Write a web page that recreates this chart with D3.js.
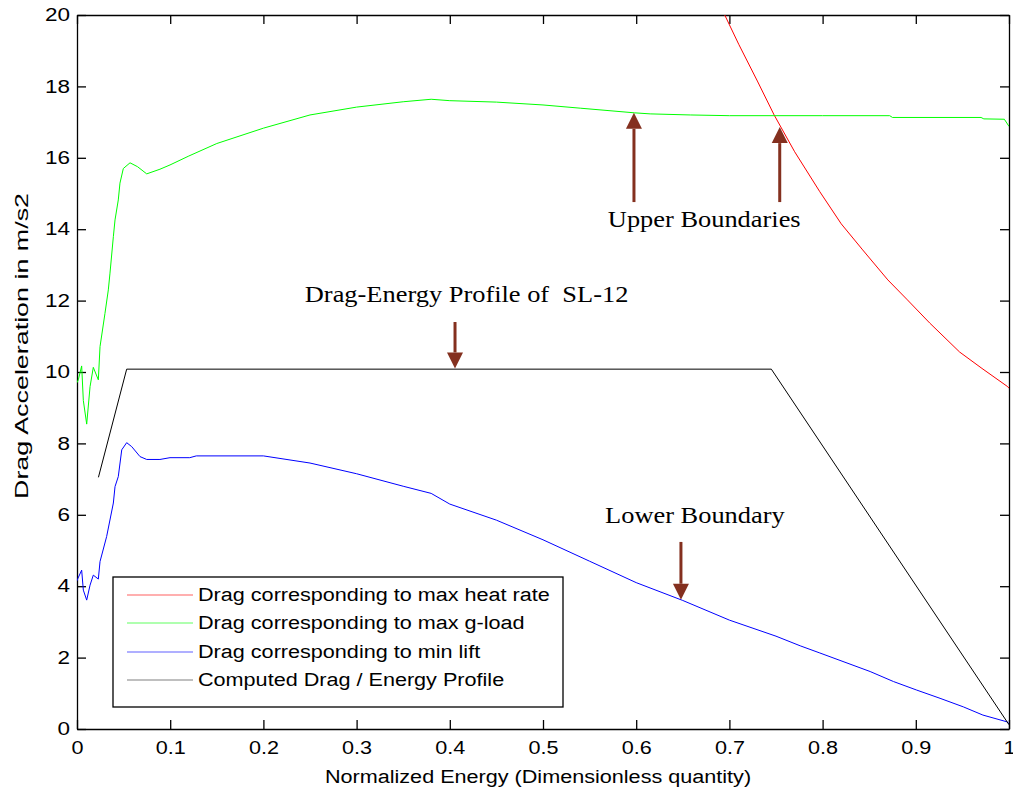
<!DOCTYPE html>
<html>
<head>
<meta charset="utf-8">
<script src="https://cdn.jsdelivr.net/npm/d3@7"></script>
<style>
  body { margin: 0; background: #fff; }
  svg { display: block; }
  text { white-space: pre; }
</style>
</head>
<body>
<svg id="chart" width="1013" height="794"></svg>
<script>
// ---- data ----
const heatX = [0.695, 0.71, 0.73, 0.748, 0.77, 0.797, 0.82, 0.843, 0.87, 0.891, 0.915, 0.947, 0.971, 0.998, 1.0];
const heatY = [20, 19.18, 18.15, 17.2, 16.17, 15.05, 14.15, 13.42, 12.58, 12.02, 11.37, 10.56, 10.1, 9.6, 9.55];

const gloadX = [0.0, 0.0014, 0.005, 0.0068, 0.0104, 0.014, 0.0175, 0.0229, 0.0247, 0.030, 0.0336, 0.0354, 0.039, 0.0408, 0.0443, 0.0461, 0.0497, 0.0569, 0.065, 0.0748, 0.089, 0.0998, 0.12, 0.15, 0.2, 0.25, 0.3, 0.35, 0.38, 0.4, 0.45, 0.5, 0.54, 0.598, 0.615, 0.658, 0.7, 0.75, 0.8, 0.872, 0.875, 0.97, 0.973, 0.995, 1.0];
const gloadY = [9.7, 9.78, 10.17, 9.2, 8.54, 9.59, 10.13, 9.78, 10.71, 11.64, 12.3, 12.77, 13.79, 14.26, 14.82, 15.29, 15.7, 15.86, 15.75, 15.55, 15.68, 15.8, 16.05, 16.4, 16.83, 17.2, 17.42, 17.57, 17.64, 17.6, 17.56, 17.48, 17.39, 17.26, 17.23, 17.2, 17.18, 17.18, 17.18, 17.18, 17.13, 17.13, 17.09, 17.08, 16.88];

const liftX = [0.0, 0.001, 0.005, 0.0068, 0.0104, 0.014, 0.0175, 0.0229, 0.0247, 0.0318, 0.039, 0.0408, 0.0443, 0.048, 0.0533, 0.0587, 0.0676, 0.0748, 0.089, 0.0998, 0.121, 0.128, 0.2, 0.25, 0.3, 0.35, 0.38, 0.4, 0.45, 0.5, 0.55, 0.6, 0.65, 0.7, 0.75, 0.776, 0.797, 0.851, 0.876, 0.901, 0.926, 0.951, 0.972, 0.998, 1.0];
const liftY = [4.15, 4.22, 4.45, 3.89, 3.61, 4.03, 4.31, 4.2, 4.69, 5.39, 6.33, 6.79, 7.07, 7.82, 8.02, 7.91, 7.63, 7.55, 7.55, 7.6, 7.6, 7.65, 7.65, 7.45, 7.15, 6.8, 6.6, 6.3, 5.85, 5.3, 4.7, 4.1, 3.6, 3.05, 2.6, 2.33, 2.13, 1.61, 1.33, 1.09, 0.86, 0.62, 0.39, 0.2, 0.15];

const profileX = [0.023, 0.0533, 0.745, 1.0];
const profileY = [7.05, 10.08, 10.08, 0.12];

const xTicks = [0, 0.1, 0.2, 0.3, 0.4, 0.5, 0.6, 0.7, 0.8, 0.9, 1];
const yTicks = [0, 2, 4, 6, 8, 10, 12, 14, 16, 18, 20];

const seriesNames = [
  "Drag corresponding to max heat rate",
  "Drag corresponding to max g-load",
  "Drag corresponding to min lift",
  "Computed Drag / Energy Profile"
];
const seriesColors = ["#ff0000", "#00ff00", "#0000ff", "#000000"];
const legendColors = ["#ff6060", "#60ff60", "#6060ff", "#808080"];

// annotations: [x, tailY, tipY]
const arrows = [
  [0.4056, 11.4, 10.1],
  [0.5976, 14.76, 17.26],
  [0.754, 14.76, 16.86],
  [0.648, 5.24, 3.62]
];
const notes = [
  { text: "Drag-Energy Profile of  SL-12", x: 0.418, y: 11.95 },
  { text: "Upper Boundaries", x: 0.673, y: 14.06 },
  { text: "Lower Boundary", x: 0.663, y: 5.77 }
];

// ---- layout ----
const svg = d3.select("#chart");
const m = { left: 77, right: 1009, top: 15, bottom: 729 };
const x = d3.scaleLinear().domain([0, 1]).range([m.left, m.right]);
const y = d3.scaleLinear().domain([0, 20]).range([m.bottom, m.top]);
const tickLen = 9;
const axisFont = "Liberation Sans, Arial, sans-serif";
const serif = "Liberation Serif, 'Times New Roman', serif";

// the source figure is a bit wider than tall, so text is stretched sideways
function stretch(sel, k) {
  sel.each(function () {
    const len = this.getComputedTextLength();
    if (len > 0) {
      d3.select(this).attr("textLength", len * k).attr("lengthAdjust", "spacingAndGlyphs");
    }
  });
}

svg.append("defs").append("clipPath").attr("id", "plotclip")
  .append("rect").attr("x", m.left).attr("y", m.top)
  .attr("width", m.right - m.left).attr("height", m.bottom - m.top);

// axes (MATLAB style: ticks inside, box around)
const gx = svg.append("g").attr("transform", `translate(0,${m.bottom})`)
  .call(d3.axisBottom(x).tickValues(xTicks).tickSizeInner(-tickLen).tickSizeOuter(0)
    .tickPadding(16).tickFormat(d3.format("~g")));
const gxTop = svg.append("g").attr("transform", `translate(0,${m.top})`)
  .call(d3.axisTop(x).tickValues(xTicks).tickSizeInner(-tickLen).tickSizeOuter(0).tickFormat(""));
const gy = svg.append("g").attr("transform", `translate(${m.left},0)`)
  .call(d3.axisLeft(y).tickValues(yTicks).tickSizeInner(-tickLen).tickSizeOuter(0).tickPadding(16));
const gyRight = svg.append("g").attr("transform", `translate(${m.right},0)`)
  .call(d3.axisRight(y).tickValues(yTicks).tickSizeInner(-tickLen).tickSizeOuter(0).tickFormat(""));

[gx, gxTop, gy, gyRight].forEach(g => {
  g.select(".domain").attr("stroke", "#000").attr("stroke-width", 1.3);
  g.selectAll(".tick line").attr("stroke", "#000").attr("stroke-width", 1.3);
  g.selectAll("text").attr("font-family", axisFont).attr("font-size", 18).attr("fill", "#000");
});
gx.selectAll("text").attr("dy", "0.71em").attr("y", 12);
gy.selectAll("text").attr("x", -7);
stretch(gx.selectAll("text"), 1.2);
stretch(gy.selectAll("text"), 1.25);

// series
const line = d3.line().x(d => x(d[0])).y(d => y(d[1]));
const plot = svg.append("g").attr("clip-path", "url(#plotclip)");
const seriesData = [
  d3.zip(heatX, heatY),
  d3.zip(gloadX, gloadY),
  d3.zip(liftX, liftY),
  d3.zip(profileX, profileY)
];
seriesData.forEach((pts, i) => {
  plot.append("path").datum(pts)
    .attr("d", line)
    .attr("fill", "none")
    .attr("stroke", seriesColors[i])
    .attr("stroke-width", 1);
});

// annotations
const arrowColor = "#84301f";
arrows.forEach(([ax, tail, tip]) => {
  const px = x(ax), y0 = y(tail), y1 = y(tip);
  const dir = y1 > y0 ? 1 : -1;
  const headLen = 16, headW = 8;
  svg.append("line")
    .attr("x1", px).attr("x2", px)
    .attr("y1", y0).attr("y2", y1 - dir * headLen)
    .attr("stroke", arrowColor).attr("stroke-width", 3);
  svg.append("path")
    .attr("d", `M${px},${y1}L${px - headW},${y1 - dir * headLen}L${px + headW},${y1 - dir * headLen}Z`)
    .attr("fill", arrowColor);
});
const noteText = svg.selectAll("text.note").data(notes).join("text")
  .attr("class", "note")
  .attr("x", d => x(d.x)).attr("y", d => y(d.y))
  .attr("text-anchor", "middle")
  .attr("font-family", serif).attr("font-size", 24)
  .attr("fill", "#000")
  .text(d => d.text);
stretch(noteText, 1.1);

// axis labels
const xLabel = svg.append("text")
  .attr("x", 538).attr("y", 783)
  .attr("text-anchor", "middle")
  .attr("font-family", axisFont).attr("font-size", 18)
  .text("Normalized Energy (Dimensionless quantity)");
stretch(xLabel, 1.2);
svg.append("text")
  .attr("transform", "translate(28,346) rotate(-90)")
  .attr("text-anchor", "middle")
  .attr("font-family", axisFont).attr("font-size", 18)
  .attr("textLength", 306).attr("lengthAdjust", "spacingAndGlyphs")
  .text("Drag Acceleration in m/s2");

// legend
const lg = svg.append("g");
lg.append("rect")
  .attr("x", 113).attr("y", 577).attr("width", 450).attr("height", 130)
  .attr("fill", "#fff").attr("stroke", "#000").attr("stroke-width", 1.3);
const rowY = [595, 623, 652, 680];
seriesNames.forEach((name, i) => {
  lg.append("line")
    .attr("x1", 127).attr("x2", 193)
    .attr("y1", rowY[i]).attr("y2", rowY[i])
    .attr("stroke", legendColors[i]).attr("stroke-width", 1.2);
  lg.append("text")
    .attr("x", 198).attr("y", rowY[i]).attr("dy", "0.35em")
    .attr("font-family", axisFont).attr("font-size", 18)
    .text(name);
});
stretch(lg.selectAll("text"), 1.2);
</script>
</body>
</html>
